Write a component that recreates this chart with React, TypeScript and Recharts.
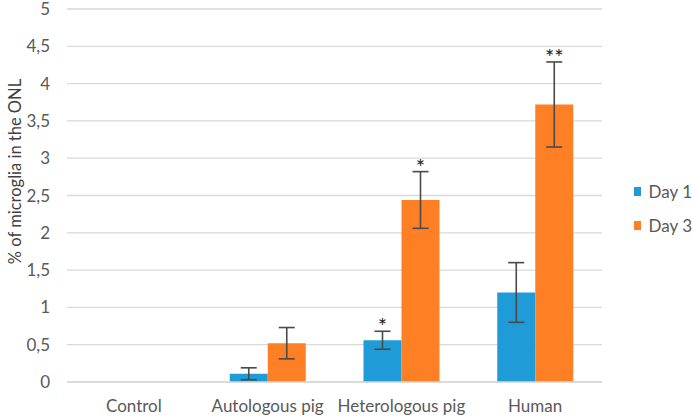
import { BarChart, Bar, XAxis, YAxis, CartesianGrid, Legend, ErrorBar, LabelList } from 'recharts';

const categories = ['Control', 'Autologous pig', 'Heterologous pig', 'Human'];
const day1 = [0, 0.11, 0.56, 1.2];
const day3 = [0, 0.52, 2.44, 3.72];
const day1Err = [null, 0.08, 0.12, 0.4];
const day3Err = [null, 0.21, 0.38, 0.57];
const day1Stars = ['', '', '*', ''];
const day3Stars = ['', '', '*', '**'];
const yTicks = [0, 0.5, 1, 1.5, 2, 2.5, 3, 3.5, 4, 4.5, 5];

const DAY1 = '#1f9bd7';
const DAY3 = '#fe7f24';
const FONT = 'Lato, "Open Sans", sans-serif';
const textColor = '#595959';

const data = categories.map((c, i) => ({
  category: c,
  day1: day1[i],
  day3: day3[i],
  err1: day1Err[i],
  err3: day3Err[i],
  star1: day1Stars[i],
  star3: day3Stars[i],
}));

const fmt = (v: number) => String(v).replace('.', ',');

// label value carries "stars|value|error" so the mark can sit above the error bar
const starKey = (star: string, val: string, err: string) => (d: any) =>
  d[star] ? `${d[star]}|${d[val]}|${d[err] || 0}` : '';

const starContent = (props: any) => {
  const { x, y, width, height, value } = props;
  if (!value) return null;
  const [stars, v, e] = String(value).split('|');
  const perUnit = Number(v) ? height / Number(v) : 0;
  const top = y - Number(e) * perUnit;
  return (
    <text x={x + width / 2} y={top + 3} textAnchor="middle" fontSize={22} fill="#222" fontFamily={FONT}>
      {stars}
    </text>
  );
};

const yLabel = (props: any) => {
  const { viewBox } = props;
  const cx = viewBox.x + 15;
  const cy = viewBox.y + viewBox.height / 2 - 24;
  return (
    <text
      x={cx}
      y={cy}
      transform={`rotate(-90, ${cx}, ${cy})`}
      textAnchor="middle"
      dominantBaseline="central"
      fontSize={16.5}
      fill="#404040"
      fontFamily={FONT}
    >
      % of microglia in the ONL
    </text>
  );
};

const renderLegend = () => (
  <div style={{ fontFamily: FONT, fontSize: 17, color: textColor }}>
    {[{ label: 'Day 1', color: DAY1 }, { label: 'Day 3', color: DAY3 }].map((it) => (
      <div key={it.label} style={{ display: 'flex', alignItems: 'center', height: 34, whiteSpace: 'nowrap' }}>
        <span style={{ display: 'inline-block', width: 9, height: 9, background: it.color, marginRight: 7 }} />
        {it.label}
      </div>
    ))}
  </div>
);

export default function App() {
  return (
    <div style={{ position: 'fixed', left: 0, top: 0, width: 692, height: 417, background: '#fff' }}>
      <BarChart width={692} height={417} data={data} margin={{ top: 9, right: 90, bottom: 0, left: 0 }} barGap={0} barSize={38}>
        <CartesianGrid stroke="#d9d9d9" strokeWidth={1.3} vertical={false} />
        <XAxis
          dataKey="category"
          height={35}
          tickLine={false}
          axisLine={{ stroke: '#d9d9d9', strokeWidth: 1.3 }}
          tickSize={0}
          tickMargin={18}
          tick={{ fill: textColor, fontSize: 17, fontFamily: FONT }}
        />
        <YAxis
          width={67}
          domain={[0, 5]}
          ticks={yTicks}
          interval={0}
          tickFormatter={fmt}
          tickLine={false}
          axisLine={false}
          tickSize={0}
          tickMargin={17}
          tick={{ fill: textColor, fontSize: 17, fontFamily: FONT }}
          label={{ content: yLabel }}
        />
        <Legend
          layout="vertical"
          align="center"
          verticalAlign="middle"
          content={renderLegend}
          wrapperStyle={{ left: 634, top: 174, width: 58, height: 68 }}
        />
        <Bar dataKey="day1" name="Day 1" fill={DAY1} isAnimationActive={false}>
          <ErrorBar dataKey="err1" width={8} stroke="#4a4a4a" strokeWidth={1.6} />
          <LabelList dataKey={starKey('star1', 'day1', 'err1')} content={starContent} />
        </Bar>
        <Bar dataKey="day3" name="Day 3" fill={DAY3} isAnimationActive={false}>
          <ErrorBar dataKey="err3" width={8} stroke="#4a4a4a" strokeWidth={1.6} />
          <LabelList dataKey={starKey('star3', 'day3', 'err3')} content={starContent} />
        </Bar>
      </BarChart>
    </div>
  );
}
